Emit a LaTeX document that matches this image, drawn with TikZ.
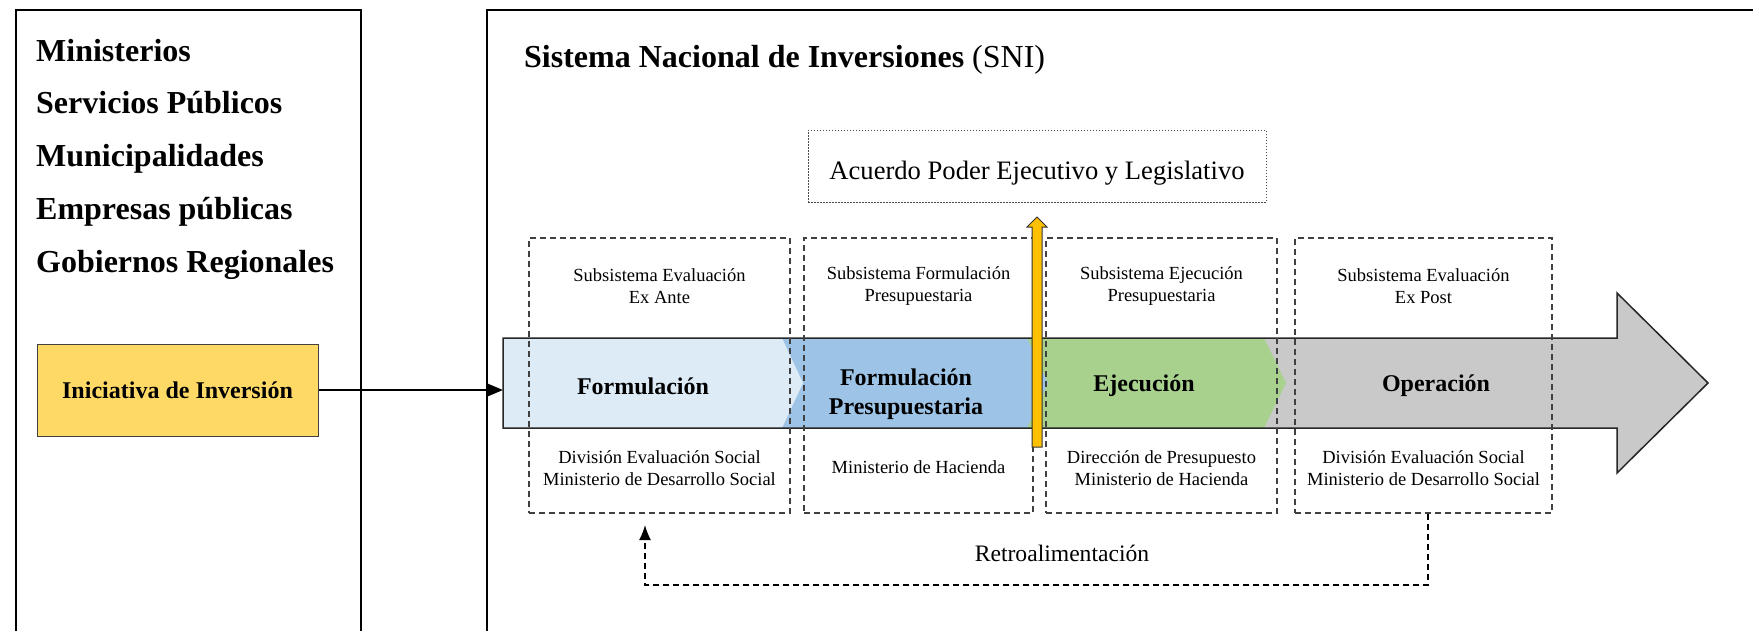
\documentclass[tikz,border=0pt]{standalone}
\usepackage{fontspec}
\setmainfont{Liberation Serif}
\usepackage{xcolor}
\usetikzlibrary{positioning,calc,arrows.meta}

\definecolor{iniyellow}{HTML}{FFD966}
\definecolor{phaseA}{HTML}{DDEBF7}
\definecolor{phaseB}{HTML}{9DC3E6}
\definecolor{phaseC}{HTML}{A9D18E}
\definecolor{phaseD}{HTML}{C9C9C9}
\definecolor{agreeorange}{HTML}{FFC000}

\begin{document}
\begin{tikzpicture}[x=1pt, y=-1pt,
    outerframe/.style={draw=black, line width=2.5pt},
    listtext/.style={anchor=base west, inner sep=0pt, font=\fontsize{32}{38}\selectfont\bfseries},
    inibox/.style={draw=black!75, line width=1pt, fill=iniyellow, minimum width=281pt, minimum height=92pt, font=\fontsize{24}{29}\selectfont\bfseries},
    phaselabel/.style={align=center, inner sep=0pt, font=\fontsize{24}{29}\selectfont\bfseries},
    subbox/.style={draw=black!75, line width=1.5pt, dash pattern=on 6pt off 4pt, minimum height=275pt, inner sep=0pt},
    subtext/.style={align=center, inner sep=0pt, font=\fontsize{18.5}{22.4}\selectfont},
    agreebox/.style={draw=black!70, line width=0.8pt, dash pattern=on 1.5pt off 1.5pt, minimum width=458pt, minimum height=72pt},
    fbline/.style={draw=black, line width=1.5pt, dash pattern=on 6pt off 4pt, -{Latex[length=15pt,width=12pt]}}]
  \useasboundingbox (0,0) rectangle (1753,630);

  % Frames
  \draw[outerframe] (16,660) -- (16,10) -- (361,10) -- (361,660);
  \draw[outerframe] (487,660) -- (487,10) -- (1780,10);

  % Institutions
  \node[listtext] (minis) at (36,61) {Ministerios};
  \node[listtext] (servi) at (36,113) {Servicios Públicos};
  \node[listtext] (munic) at (36,166) {Municipalidades};
  \node[listtext] (empre) at (36,219) {Empresas públicas};
  \node[listtext] (gobre) at (36,272) {Gobiernos Regionales};

  \node[inibox] (ini) at (177.5,390) {Iniciativa de Inversión};

  % SNI title
  \node[anchor=base west, inner sep=0pt, font=\fontsize{32}{38}\selectfont] (title) at (524,67) {\textbf{Sistema Nacional de Inversiones} (SNI)};

  % Process band
  \coordinate (bandin) at (503,390);
  \fill[phaseD] (503,338) -- (1617,338) -- (1617,293) -- (1708,383) -- (1617,473) -- (1617,428) -- (503,428) -- cycle;
  \fill[phaseC] (1015,338) -- (1264,338) -- (1286,383) -- (1264,428) -- (1015,428) -- cycle;
  \fill[phaseB] (770,338) -- (1027,338) -- (1048,383) -- (1027,428) -- (770,428) -- cycle;
  \fill[phaseA] (503,338) -- (782,338) -- (803,383) -- (782,428) -- (503,428) -- cycle;
  \draw[line width=1.5pt, black!85] (503,338) -- (1617,338) -- (1617,293) -- (1708,383) -- (1617,473) -- (1617,428) -- (503,428) -- cycle;

  \node[phaselabel] (pform) at (643,386) {Formulación};
  \node[phaselabel] (ppres) at (906,394) {Formulación\\Presupuestaria};
  \node[phaselabel] (pejec) at (1144,386) {Ejecución};
  \node[phaselabel] (poper) at (1436,386) {Operación};

  % Subsystems
  \node[subbox, minimum width=261pt] (s1) at (659.5,375.5) {};
  \node[subbox, minimum width=229pt] (s2) at (918.5,375.5) {};
  \node[subbox, minimum width=231pt] (s3) at (1161.5,375.5) {};
  \node[subbox, minimum width=257pt] (s4) at (1423.5,375.5) {};

  \node[subtext] (s1top) at (659.5,286) {Subsistema Evaluación\\Ex Ante};
  \node[subtext] (s2top) at (918.5,286) {Subsistema Formulación\\Presupuestaria};
  \node[subtext] (s3top) at (1161.5,286) {Subsistema Ejecución\\Presupuestaria};
  \node[subtext] (s4top) at (1423.5,286) {Subsistema Evaluación\\Ex Post};

  \node[subtext] (s1bot) at (659.5,468) {División Evaluación Social\\Ministerio de Desarrollo Social};
  \node[subtext] (s2bot) at (918.5,467) {Ministerio de Hacienda};
  \node[subtext] (s3bot) at (1161.5,468) {Dirección de Presupuesto\\Ministerio de Hacienda};
  \node[subtext] (s4bot) at (1423.5,468) {División Evaluación Social\\Ministerio de Desarrollo Social};

  % Agreement
  \node[agreebox] (acuerdo) at (1037,166) {};
  \node[inner sep=0pt, font=\fontsize{26.6}{32}\selectfont] (acuerdotxt) at ([yshift=-7pt]acuerdo.center) {Acuerdo Poder Ejecutivo y Legislativo};
  \coordinate (oabase) at (1037,447);
  \coordinate (oatip) at (1037,217);
  \filldraw[fill=agreeorange, draw=black!80, line width=1pt] (oabase) ++(-5,0) -- ++(0,-220) -- ++(-5,0) -- (oatip) -- ++(10,10) -- ++(-5,0) -- ++(0,220) -- cycle;

  % Feedback
  \coordinate (fbcorner) at (645,585);
  \coordinate (fbend) at (645,525);
  \draw[fbline] ([xshift=4.5pt]s4.south) |- (fbcorner) -- (fbend);
  \node[inner sep=0pt, font=\fontsize{23.6}{28}\selectfont] (retro) at (1062,553) {Retroalimentación};

  % Initiative into SNI
  \draw[line width=2pt, -{Triangle[length=15pt,width=12pt]}] (ini.east) -- (bandin);
\end{tikzpicture}
\end{document}
